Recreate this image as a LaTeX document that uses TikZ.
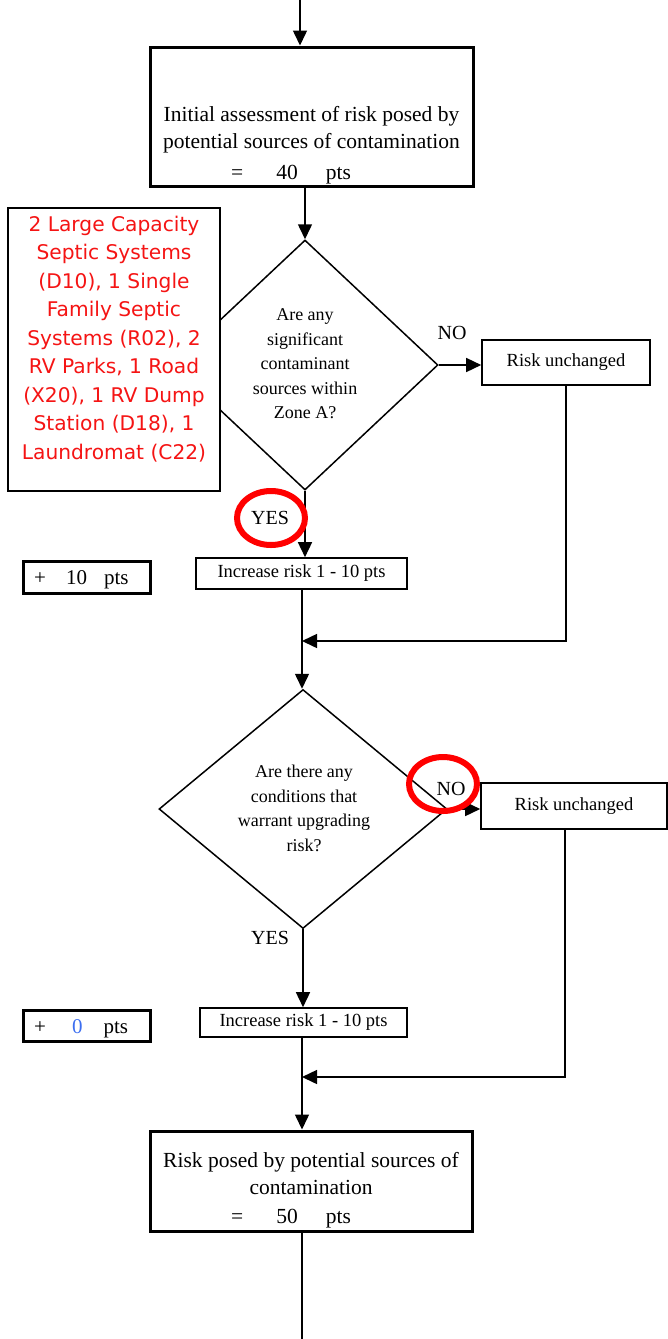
\documentclass[tikz,border=0pt]{standalone}
\usepackage{fontspec}
\setmainfont{Liberation Serif}
\newfontfamily\redfont{DejaVu Sans}
\usetikzlibrary{arrows.meta,shapes.geometric}
\definecolor{redtxt}{RGB}{245,20,20}
\definecolor{bluetxt}{RGB}{60,110,240}
\tikzset{
  thickbox/.style={draw,line width=3pt,rectangle,inner sep=0pt},
  thinbox/.style={draw,line width=1.6pt,rectangle,inner sep=0pt,font=\fontsize{18.5}{20}\selectfont},
  dec/.style={draw,line width=1.5pt,diamond,inner sep=0pt},
  dectxt/.style={align=center,inner sep=0pt,font=\fontsize{18}{24.5}\selectfont},
  conn/.style={line width=1.5pt},
  arr/.style={line width=1.5pt,-{Triangle[length=15pt,width=14pt]}},
  lbl/.style={font=\fontsize{20}{22}\selectfont,inner sep=0pt},
  txt/.style={font=\fontsize{21.5}{27}\selectfont,align=center,inner sep=0pt},
  ptsbox/.style={thickbox,font=\fontsize{21}{22}\selectfont},
  redring/.style={draw=red,line width=6pt},
}
\begin{document}
\begin{tikzpicture}[x=1pt,y=-1pt]
\useasboundingbox (0,0) rectangle (667,1339);
% diamonds first (red box overlaps diamond 1)
\node[dec,minimum width=266pt,minimum height=250pt] (d1) at (305,365) {};
\node[dectxt] (d1t) at (305,364) {Are any\\significant\\contaminant\\sources within\\Zone A?};
\node[dec,minimum width=288pt,minimum height=239pt] (d2) at (303,809) {};
\node[dectxt] (d2t) at (304,808.5) {Are there any\\conditions that\\warrant upgrading\\risk?};
% top box
\coordinate (start) at (300,0);
\node[thickbox,minimum width=323pt,minimum height=139pt] (top) at (311.5,116.5) {};
\node[txt] (topt) at (311.5,129.5) {Initial assessment of risk posed by\\potential sources of contamination};
\node[txt,anchor=base west] (topv) at (231,179) {=\hspace{33pt}40\hspace{28pt}pts};
% red box
\node[draw,fill=white,line width=1.6pt,minimum width=212pt,minimum height=283pt,inner sep=0pt] (redbox) at (114,349.5) {};
\node[text=redtxt,align=center,inner sep=0pt,font=\redfont\fontsize{20.2}{28.5}\selectfont] (redt) at (114,339) {2 Large Capacity\\Septic Systems\\(D10), 1 Single\\Family Septic\\Systems (R02), 2\\RV Parks, 1 Road\\(X20), 1 RV Dump\\Station (D18), 1\\Laundromat (C22)};
% right boxes
\node[thinbox,minimum width=168pt,minimum height=45pt] (r1) at (566,362.5) {Risk unchanged};
\node[thinbox,minimum width=186pt,minimum height=46pt] (r2) at (574,806) {Risk unchanged};
% increase boxes
\node[thinbox,minimum width=211pt,minimum height=31pt] (inc1) at (301.5,573.5) {Increase risk 1 - 10 pts};
\node[thinbox,minimum width=207pt,minimum height=29pt] (inc2) at (303.5,1022.5) {Increase risk 1 - 10 pts};
% pts boxes
\node[ptsbox,minimum width=127pt,minimum height=32pt] (p1) at (86.5,577) {};
\node[font=\fontsize{21}{22}\selectfont,anchor=base west,inner sep=0pt] (p1t) at (34,584) {+\hspace{20pt}10\hspace{17pt}pts};
\node[ptsbox,minimum width=127pt,minimum height=31pt] (p2) at (86.5,1025.5) {};
\node[font=\fontsize{21}{22}\selectfont,anchor=base west,inner sep=0pt] (p2t) at (34,1033) {+\hspace{26pt}\textcolor{bluetxt}{0}\hspace{21pt}pts};
% final box
\node[thickbox,minimum width=322pt,minimum height=100pt] (fin) at (311,1181) {};
\node[txt] (fint) at (311,1174) {Risk posed by potential sources of\\contamination};
\node[txt,anchor=base west] (finv) at (231,1223) {=\hspace{33pt}50\hspace{28pt}pts};
\coordinate (m1) at (302,641);
\coordinate (m2) at (302,1077);
\coordinate (end) at (302,1339);
% connectors
\draw[arr] (start) -- (start |- top.north);
\draw[arr] (d1.north |- top.south) -- (d1.north);
\draw[arr] (d1.east) -- (d1.east -| r1.west);
\draw[arr] (d1.south) -- (d1.south |- inc1.north);
\draw[conn] (inc1.south -| m1) -- (m1);
\draw[arr] (m1) -- (m1 |- d2.north);
\draw[arr] (r1.south) |- (m1);
\draw[arr] (d2.east) -- (d2.east -| r2.west);
\draw[arr] (d2.south) -- (d2.south |- inc2.north);
\draw[conn] (inc2.south -| m2) -- (m2);
\draw[arr] (m2) -- (m2 |- fin.north);
\draw[arr] ([xshift=-9pt]r2.south) |- (m2);
\draw[conn] (fin.south -| end) -- (end);
% labels
\node[lbl] (yes1) at (270,518) {YES};
\node[lbl] (no1) at (452,333) {NO};
\node[lbl] (no2) at (451,789) {NO};
\node[lbl] (yes2) at (270,938) {YES};
% red rings
\draw[redring] (271,518) ellipse [x radius=34pt,y radius=27pt];
\draw[redring] (443,784) ellipse [x radius=34pt,y radius=27pt];
\end{tikzpicture}
\end{document}
